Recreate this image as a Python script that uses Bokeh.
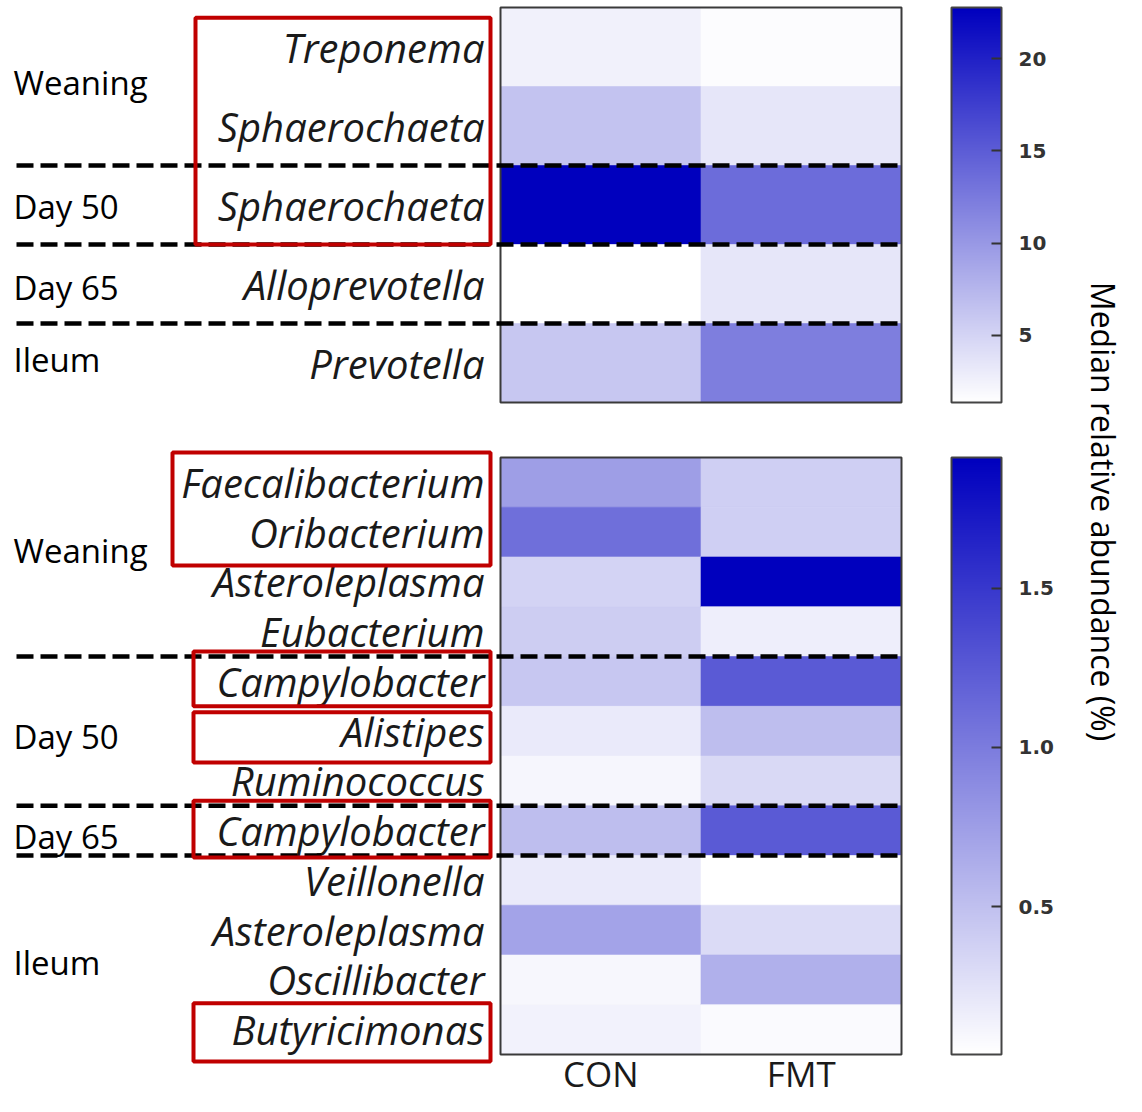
import numpy as np
from bokeh.plotting import figure
from bokeh.models import (ColumnDataSource, Range1d, LinearColorMapper, ColorBar,
                          FixedTicker, PrintfTickFormatter)
from bokeh.transform import transform
from bokeh.core.properties import value
from bokeh.embed import file_html
from bokeh.resources import INLINE

# ---------------- data ----------------
conditions = ["CON", "FMT"]

top_genera = ["Treponema", "Sphaerochaeta", "Sphaerochaeta", "Alloprevotella", "Prevotella"]
top_con = [2.54, 6.40, 22.77, 1.36, 6.07]
top_fmt = [1.62, 3.46, 13.70, 3.46, 12.19]
top_groups = ["Weaning", "Day 50", "Day 65", "Ileum"]
top_group_sizes = [2, 1, 1, 1]
top_ticks = [5, 10, 15, 20]

bot_genera = ["Faecalibacterium", "Oribacterium", "Asteroleplasma", "Eubacterium",
              "Campylobacter", "Alistipes", "Ruminococcus", "Campylobacter",
              "Veillonella", "Asteroleplasma", "Oscillibacter", "Butyricimonas"]
bot_con = [0.748, 1.094, 0.360, 0.403, 0.448, 0.190, 0.109, 0.514, 0.190, 0.712, 0.095, 0.132]
bot_fmt = [0.389, 0.389, 1.910, 0.161, 1.249, 0.514, 0.315, 1.249, 0.036, 0.300, 0.617, 0.073]
bot_groups = ["Weaning", "Day 50", "Day 65", "Ileum"]
bot_group_sizes = [4, 3, 1, 4]
bot_ticks = [0.5, 1.0, 1.5]

cbar_title = "Median relative abundance (%)"

# highlighted (red framed) row spans: (first row, last row)
top_boxed = [(0, 2)]
bot_boxed = [(0, 1), (4, 4), (5, 5), (7, 7), (11, 11)]

# ---------------- layout / style ----------------
W, H = 1126, 1096
COL_W = 200.5          # px per heatmap column
HEAT_X0 = 500          # canvas x of heatmap left edge
TOP_Y0, TOP_RH = 7.0, 79.0
BOT_Y0, BOT_RH = 457.0, 49.75
CB_X = 951             # canvas x of colour bars
CB_W = 50

# per-box extra padding in rows (top, bottom) and left edge in px from heatmap
TOP_BOX_STYLE = [(-0.13, 0.0, 305)]
BOT_BOX_STYLE = [(0.1, 0.17, 328), (0.1, 0.0, 307), (-0.12, 0.13, 307), (0.1, 0.04, 307), (0.03, 0.14, 307)]
# vertical nudge (px) of the group labels from their group centre
TOP_GROUP_NUDGE = [-4, 1, 3, -4]
BOT_GROUP_NUDGE = [-7, 5, 6, 7]

LBL_FONT = "Open Sans"
BLUE_END = (0, 0, 190)
palette = ["#%02x%02x%02x" % tuple(int(round(255 + (e - 255) * t)) for e in BLUE_END)
           for t in np.linspace(0, 1, 256)]

px = lambda x_canvas: (x_canvas - HEAT_X0) / COL_W

p = figure(width=W, height=H, output_backend="svg", toolbar_location=None,
           x_axis_location=None, y_axis_location=None, min_border=0,
           outline_line_color=None,
           x_range=Range1d(px(0), px(W)),
           y_range=Range1d((H - TOP_Y0) / TOP_RH, -TOP_Y0 / TOP_RH))
p.extra_y_ranges = {"bot": Range1d((H - BOT_Y0) / BOT_RH, -BOT_Y0 / BOT_RH)}
p.xgrid.visible = False
p.ygrid.visible = False


def panel(genera, con, fmt, groups, sizes, boxed, box_style, nudge, ticks, fmt_str, rng, rh, y0, font_size):
    kw = {} if rng == "default" else {"y_range_name": rng}
    n = len(genera)
    vals = list(con) + list(fmt)
    lo, hi = min(vals), max(vals)
    mapper = LinearColorMapper(palette=palette, low=lo, high=hi)
    xs = [i + 0.5 for i in range(len(conditions)) for _ in range(n)]
    ys = [r + 0.5 for _ in conditions for r in range(n)]
    src = ColumnDataSource(dict(x=xs, y=ys, v=vals))
    p.rect(x="x", y="y", width=1, height=1, source=src,
           fill_color=transform("v", mapper), line_color=transform("v", mapper),
           line_width=0.6, **kw)
    # border
    p.quad(left=[0], right=[len(conditions)], top=[0], bottom=[n], fill_color=None,
           line_color="#3a3a3a", line_width=2, **kw)
    # genus labels
    gsrc = ColumnDataSource(dict(x=[px(HEAT_X0 - 16)] * n, y=[r + 0.5 for r in range(n)], t=genera))
    p.text(x="x", y="y", text="t", source=gsrc, text_align="right", text_baseline="middle",
           text_font=value(LBL_FONT), text_font_style="italic", text_font_size=font_size,
           text_color="#1a1a1a", **kw)
    # group labels and dashed separators
    bounds = np.cumsum([0] + list(sizes))
    centers = [(bounds[i] + bounds[i + 1]) / 2 + nudge[i] / rh for i in range(len(groups))]
    lsrc = ColumnDataSource(dict(x=[px(13)] * len(groups), y=centers, t=groups))
    p.text(x="x", y="y", text="t", source=lsrc, text_align="left", text_baseline="middle",
           text_font=value(LBL_FONT), text_font_size="33px", text_color="#000000", **kw)
    seps = [float(b) for b in bounds[1:-1]]
    p.segment(x0=[px(16)] * len(seps), x1=[len(conditions) - 0.01] * len(seps), y0=seps, y1=seps,
              line_color="black", line_width=4.5, line_dash="17 7", **kw)
    # red frames
    for (a, b), (pt, pb, left) in zip(boxed, box_style):
        p.quad(left=[px(HEAT_X0 - left)], right=[px(HEAT_X0 - 10)], top=[a - pt], bottom=[b + 1 + pb],
               fill_color=None, line_color="#C00000", line_width=4, **kw)
    # colour bar
    cb = ColorBar(color_mapper=mapper, orientation="vertical", width=CB_W, height=int(round(n * rh)),
                  location=(CB_X, H - (y0 + n * rh)), padding=0, margin=0,
                  ticker=FixedTicker(ticks=ticks), formatter=PrintfTickFormatter(format=fmt_str),
                  major_label_text_font="DejaVu Sans", major_label_text_font_size="20px",
                  major_label_text_font_style="bold",
                  major_label_text_color="#333333", label_standoff=17,
                  major_tick_in=10, major_tick_out=0, major_tick_line_color="#333333",
                  major_tick_line_width=2, minor_tick_line_color=None,
                  bar_line_color="#444444", bar_line_width=2,
                  background_fill_alpha=0, border_line_color=None)
    p.add_layout(cb)
    # ticks on the left inner edge of the bar
    tys = [(hi - t) / (hi - lo) * n for t in ticks]
    p.segment(x0=[px(CB_X)] * len(ticks), x1=[px(CB_X + 8)] * len(ticks), y0=tys, y1=tys,
              line_color="#333333", line_width=2, **kw)


panel(top_genera, top_con, top_fmt, top_groups, top_group_sizes, top_boxed, TOP_BOX_STYLE,
      TOP_GROUP_NUDGE, top_ticks, "%d", "default", TOP_RH, TOP_Y0, "40px")
panel(bot_genera, bot_con, bot_fmt, bot_groups, bot_group_sizes, bot_boxed, BOT_BOX_STYLE,
      BOT_GROUP_NUDGE, bot_ticks, "%.1f", "bot", BOT_RH, BOT_Y0, "40px")

# condition labels
csrc = ColumnDataSource(dict(x=[i + 0.5 for i in range(len(conditions))],
                             y=[(1073 - BOT_Y0) / BOT_RH] * len(conditions), t=conditions))
p.text(x="x", y="y", text="t", source=csrc, y_range_name="bot", text_align="center",
       text_baseline="middle", text_font=value(LBL_FONT), text_font_size="35px",
       text_color="#1a1a1a")

# colour bar title (rotated)
tsrc = ColumnDataSource(dict(x=[px(1103)], y=[(511 - TOP_Y0) / TOP_RH], t=[cbar_title]))
p.text(x="x", y="y", text="t", source=tsrc, angle=-np.pi / 2, text_align="center",
       text_baseline="middle", text_font=value(LBL_FONT), text_font_size="32px",
       text_color="#000000")

open("out.html", "w").write(file_html(p, INLINE))
